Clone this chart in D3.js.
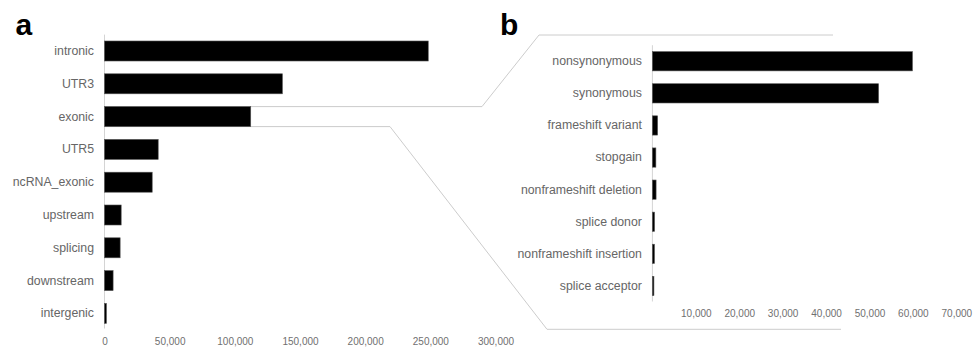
<!DOCTYPE html>
<html>
<head>
<meta charset="utf-8">
<script src="https://cdn.jsdelivr.net/npm/d3@7/dist/d3.min.js"></script>
<style>
  html, body { margin: 0; padding: 0; background: #fff; }
  svg { display: block; font-family: "Liberation Sans", Arial, sans-serif; }
</style>
</head>
<body>
<svg id="chart" width="974" height="348"></svg>
<script>
// Panel a: variant counts by genomic region
const regionCategories = ["intronic", "UTR3", "exonic", "UTR5", "ncRNA_exonic", "upstream", "splicing", "downstream", "intergenic"];
const regionCounts = [248400, 136500, 112200, 41200, 36600, 12800, 12000, 6600, 1500];
const regionTicks = [0, 50000, 100000, 150000, 200000, 250000, 300000];

// Panel b: breakdown of exonic variants by consequence
const exonicCategories = ["nonsynonymous", "synonymous", "frameshift variant", "stopgain", "nonframeshift deletion", "splice donor", "nonframeshift insertion", "splice acceptor"];
const exonicCounts = [59900, 52100, 1200, 800, 850, 500, 480, 350];
const exonicTicks = [10000, 20000, 30000, 40000, 50000, 60000, 70000];

const svg = d3.select("#chart");
const fmt = d3.format(",");
const labelColor = "#666";
const tickColor = "#707070";
const guideColor = "#d4d4d4";
const connectorColor = "#cccccc";

// ---------- panel a ----------
const xA = d3.scaleLinear().domain([0, 300000]).range([104.5, 495.5]);
const yA = d3.scaleBand().domain(regionCategories).range([34.6, 329.8])
  .paddingInner(0.39).paddingOuter(0.195);

// ---------- panel b ----------
const xB = d3.scaleLinear().domain([0, 70000]).range([652.4, 956.3]);
const yB = d3.scaleBand().domain(exonicCategories).range([45.2, 302])
  .paddingInner(0.4).paddingOuter(0.2);

// zoom connectors linking the exonic bar to panel b
const exonicTop = yA("exonic");
const exonicBottom = yA("exonic") + yA.bandwidth();
const connectors = [
  [[xA(0), exonicTop], [482, exonicTop], [539, 35], [833, 35]],
  [[xA(0), exonicBottom], [390, exonicBottom], [547, 329.3], [841, 329.3]]
];
svg.append("g").selectAll("path").data(connectors).join("path")
  .attr("d", d3.line())
  .attr("fill", "none")
  .attr("stroke", connectorColor)
  .attr("stroke-width", 1);

function drawPanel(x, y, cats, vals, ticks, axisY, axisTop, axisBottom) {
  const g = svg.append("g");
  // vertical baseline
  g.append("line")
    .attr("x1", x(0)).attr("x2", x(0))
    .attr("y1", axisTop).attr("y2", axisBottom)
    .attr("stroke", guideColor).attr("stroke-width", 1);
  // bars
  g.selectAll("rect").data(cats).join("rect")
    .attr("x", x(0))
    .attr("y", d => y(d))
    .attr("width", (d, i) => x(vals[i]) - x(0))
    .attr("height", y.bandwidth())
    .attr("fill", "#000")
    .attr("stroke", "#555")
    .attr("stroke-width", 0.6);
  // category labels
  const ax = d3.axisLeft(y).tickSize(0).tickPadding(10.5);
  const gy = g.append("g").attr("transform", `translate(${x(0)},0)`).call(ax);
  gy.select(".domain").remove();
  gy.selectAll("text").attr("fill", labelColor)
    .style("font-size", "12.3px").style("font-family", '"Liberation Sans", Arial, sans-serif');
  // value axis labels
  const bx = d3.axisBottom(x).tickValues(ticks).tickFormat(fmt).tickSize(0).tickPadding(0);
  const gx = g.append("g").attr("transform", `translate(0,${axisY})`).call(bx);
  gx.select(".domain").remove();
  gx.selectAll("text").attr("fill", tickColor).attr("dy", "0")
    .style("font-size", "10px").style("font-family", '"Liberation Sans", Arial, sans-serif');
}

drawPanel(xA, yA, regionCategories, regionCounts, regionTicks, 345.3, 34.6, 328.5);
drawPanel(xB, yB, exonicCategories, exonicCounts, exonicTicks, 317, 45.2, 301.5);

// panel letters
svg.append("text").attr("x", 15.5).attr("y", 35).text("a")
  .attr("font-weight", "bold").attr("font-size", 30).attr("fill", "#000");
svg.append("text").attr("x", 500).attr("y", 35).text("b")
  .attr("font-weight", "bold").attr("font-size", 30).attr("fill", "#000");
</script>
</body>
</html>
